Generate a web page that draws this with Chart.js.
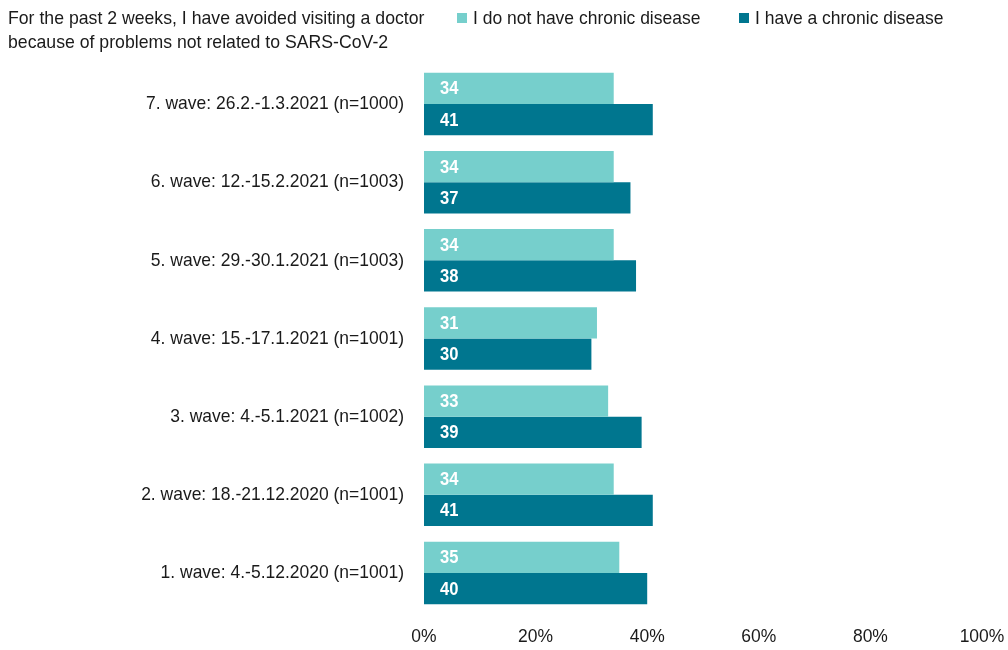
<!DOCTYPE html>
<html>
<head>
<meta charset="utf-8">
<script src="https://cdn.jsdelivr.net/npm/chart.js@4/dist/chart.umd.min.js"></script>
<style>
  html, body { margin: 0; padding: 0; background: #fff; }
  #wrap { width: 1008px; height: 650px; position: relative; }
</style>
</head>
<body>
<div id="wrap"><canvas id="c" width="1008" height="650"></canvas></div>
<script>
const FONT = '"Liberation Sans", Arial, sans-serif';
const TEXT = '#1a1a1a';
const NARROW = 0.92;   // horizontal squeeze for a condensed look

const titleLines = [
  'For the past 2 weeks, I have avoided visiting a doctor',
  'because of problems not related to SARS-CoV-2'
];
const waves = [
  '7. wave: 26.2.-1.3.2021 (n=1000)',
  '6. wave: 12.-15.2.2021 (n=1003)',
  '5. wave: 29.-30.1.2021 (n=1003)',
  '4. wave: 15.-17.1.2021 (n=1001)',
  '3. wave: 4.-5.1.2021 (n=1002)',
  '2. wave: 18.-21.12.2020 (n=1001)',
  '1. wave: 4.-5.12.2020 (n=1001)'
];
const seriesNames = ['I do not have chronic disease', 'I have a chronic disease'];
const noChronic = [34, 34, 34, 31, 33, 34, 35];
const chronic   = [41, 37, 38, 30, 39, 41, 40];
const xTicks = [0, 20, 40, 60, 80, 100];

const LIGHT = '#76CFCC';
const DARK = '#00768F';

function narrowText(ctx, text, x, y, align, sx) {
  ctx.save();
  ctx.translate(x, y);
  ctx.scale(sx, 1);
  ctx.textAlign = align;
  ctx.textBaseline = 'middle';
  ctx.fillText(text, 0, 0);
  ctx.restore();
}

// Title block and legend in the header strip
const headerPlugin = {
  id: 'header',
  afterDraw(chart) {
    const ctx = chart.ctx;
    ctx.save();
    ctx.fillStyle = TEXT;
    ctx.font = '19px ' + FONT;
    narrowText(ctx, titleLines[0], 8, 19, 'left', 0.93);
    narrowText(ctx, titleLines[1], 8, 43, 'left', 0.93);

    const items = [{x: 457, ds: 0}, {x: 739, ds: 1}];
    items.forEach(it => {
      const ds = chart.data.datasets[it.ds];
      ctx.fillStyle = ds.backgroundColor;
      ctx.fillRect(it.x, 13, 10, 10);
      ctx.fillStyle = TEXT;
      narrowText(ctx, ds.label, it.x + 16, 19, 'left', NARROW);
    });
    ctx.restore();
  }
};

// Category and percentage labels along both axes
const axisLabelPlugin = {
  id: 'axisLabels',
  afterDraw(chart) {
    const ctx = chart.ctx;
    const xs = chart.scales.x, ys = chart.scales.y;
    ctx.save();
    ctx.fillStyle = TEXT;
    ctx.font = '19px ' + FONT;
    chart.data.labels.forEach((lab, i) => {
      narrowText(ctx, lab, ys.right - 20, ys.getPixelForTick(i), 'right', NARROW);
    });
    xTicks.forEach(v => {
      narrowText(ctx, v + '%', xs.getPixelForValue(v), xs.top + 25, 'center', NARROW);
    });
    ctx.restore();
  }
};

// White value labels inside the left end of each bar
const valuePlugin = {
  id: 'values',
  afterDatasetsDraw(chart) {
    const ctx = chart.ctx;
    ctx.save();
    ctx.fillStyle = '#ffffff';
    ctx.font = 'bold 18px ' + FONT;
    chart.data.datasets.forEach((ds, i) => {
      const meta = chart.getDatasetMeta(i);
      meta.data.forEach((bar, j) => {
        narrowText(ctx, String(ds.data[j]), bar.base + 16, bar.y + 1, 'left', NARROW);
      });
    });
    ctx.restore();
  }
};

new Chart(document.getElementById('c'), {
  type: 'bar',
  data: {
    labels: waves,
    datasets: [
      { label: seriesNames[0], data: noChronic, backgroundColor: LIGHT },
      { label: seriesNames[1], data: chronic, backgroundColor: DARK }
    ]
  },
  options: {
    indexAxis: 'y',
    responsive: false,
    animation: false,
    layout: { padding: { top: 65, right: 26, bottom: 0, left: 0 } },
    datasets: { bar: { categoryPercentage: 0.8, barPercentage: 1.0 } },
    plugins: {
      legend: { display: false },
      title: { display: false },
      tooltip: { enabled: false }
    },
    scales: {
      x: {
        min: 0, max: 100,
        afterFit(scale) {
          scale.height = 38;
          scale.paddingLeft = 0;
          scale.paddingRight = 0;
        },
        afterBuildTicks(scale) { scale.ticks = xTicks.map(v => ({ value: v })); },
        grid: { display: false, drawTicks: false },
        border: { display: false },
        ticks: { display: false }
      },
      y: {
        afterFit(scale) {
          scale.width = 424;
          scale.paddingTop = 0;
          scale.paddingBottom = 0;
        },
        grid: { display: false, drawTicks: false },
        border: { display: false },
        ticks: { display: false }
      }
    }
  },
  plugins: [headerPlugin, axisLabelPlugin, valuePlugin]
});
</script>
</body>
</html>
